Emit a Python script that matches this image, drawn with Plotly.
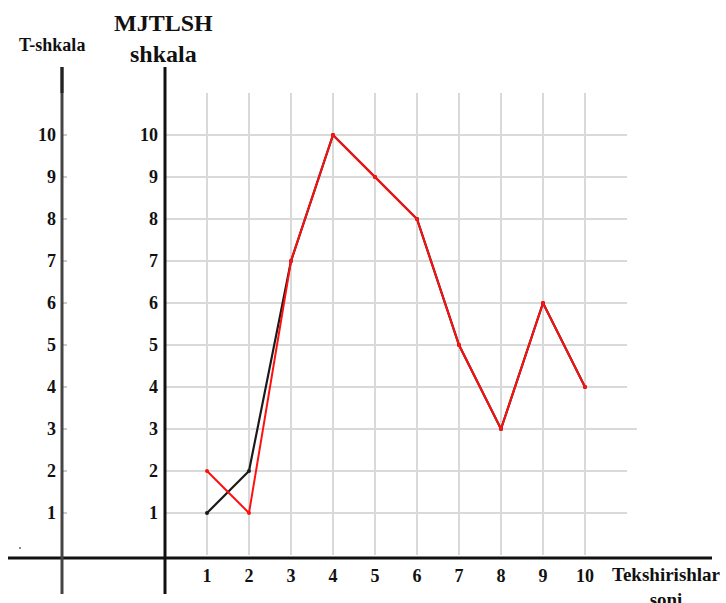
import plotly.graph_objects as go

W, H = 726, 603

# ---- data ----
checks = [1, 2, 3, 4, 5, 6, 7, 8, 9, 10]
t_scale = [1, 2, 7, 10, 9, 8, 5, 3, 6, 4]        # black line (T-shkala)
mjtlsh_scale = [2, 1, 7, 10, 9, 8, 5, 3, 6, 4]   # red line (MJTLSH shkala)
x_tick_labels = ["", "1", "2", "3", "4", "5", "6", "7", "8", "9", "10", ""]
y_tick_labels = ["", "1", "2", "3", "4", "5", "6", "7", "8", "9", "10", ""]
grid_vals = list(range(0, 12))

FONT = "Liberation Serif, Times New Roman, serif"

def px(x):
    return x / W

def py(y):
    return 1 - y / H

fig = go.Figure()

fig.add_trace(go.Scatter(
    x=checks, y=t_scale, mode="lines+markers", yaxis="y",
    line=dict(color="#1a1a1a", width=2.2),
    marker=dict(color="#1a1a1a", size=4),
    showlegend=False, hoverinfo="skip"))
fig.add_trace(go.Scatter(
    x=checks, y=mjtlsh_scale, mode="lines+markers", yaxis="y2",
    line=dict(color="#ff1010", width=2),
    marker=dict(color="#ff1010", size=4),
    showlegend=False, hoverinfo="skip"))

xdom = [165 / W, 627 / W]
ydom = [(H - 555) / H, (H - 93) / H]
tickfont = dict(family=FONT, size=18, color="#111", weight="bold")

fig.update_layout(
    width=W, height=H, autosize=False,
    margin=dict(l=0, r=0, t=0, b=0),
    paper_bgcolor="white", plot_bgcolor="white",
    xaxis=dict(domain=xdom, range=[0, 11], tickvals=grid_vals, ticktext=x_tick_labels,
               showgrid=True, gridcolor="#d9d9d9", gridwidth=2, zeroline=False,
               showline=False, ticks="", tickfont=tickfont, ticklabelstandoff=8,
               fixedrange=True),
    yaxis=dict(domain=ydom, range=[0, 11], tickvals=grid_vals, ticktext=y_tick_labels,
               showgrid=True, gridcolor="#d9d9d9", gridwidth=2, zeroline=False,
               showline=False, ticks="", tickfont=tickfont, ticklabelstandoff=6,
               fixedrange=True),
    yaxis2=dict(domain=ydom, range=[0, 11], tickvals=grid_vals, ticktext=y_tick_labels,
                overlaying="y", anchor="free", position=62 / W, side="left",
                showgrid=False, zeroline=False, showline=False,
                ticks="inside", ticklen=4, tickcolor="#cccccc", tickwidth=2,
                tickfont=tickfont, ticklabelstandoff=6, fixedrange=True),
)

shapes = []
# extend the y=3 gridline slightly to the right
shapes.append(dict(type="line", xref="paper", yref="y", x0=px(627), x1=px(637), y0=3, y1=3,
                   line=dict(color="#d9d9d9", width=2)))
# horizontal axis line
shapes.append(dict(type="line", xref="paper", yref="paper", x0=px(8), x1=px(712),
                   y0=py(558), y1=py(558), line=dict(color="#111", width=3)))
# left (T-shkala) axis line
shapes.append(dict(type="line", xref="paper", yref="paper", x0=px(62), x1=px(62),
                   y0=py(67), y1=py(594), line=dict(color="#444", width=3)))
shapes.append(dict(type="line", xref="paper", yref="paper", x0=px(62), x1=px(62),
                   y0=py(67), y1=py(93), line=dict(color="#222", width=3)))
# main (MJTLSH) axis line
shapes.append(dict(type="line", xref="paper", yref="paper", x0=px(165), x1=px(165),
                   y0=py(67), y1=py(594), line=dict(color="#111", width=3)))
# small stray dot
shapes.append(dict(type="circle", xref="paper", yref="paper", x0=px(19), x1=px(21),
                   y0=py(547), y1=py(549), fillcolor="#666", line=dict(width=0)))
fig.update_layout(shapes=shapes)

annotations = [
    dict(text="<b>T-shkala</b>", x=px(52), y=py(45), font=dict(family=FONT, size=18, color="#111")),
    dict(text="<b>MJTLSH<br>shkala</b>", x=px(163), y=py(38), font=dict(family=FONT, size=24, color="#111")),
    dict(text="<b>Tekshirishlar<br>soni</b>", x=px(666), y=py(587), font=dict(family=FONT, size=19, color="#111")),
]
for a in annotations:
    a.update(xref="paper", yref="paper", showarrow=False, xanchor="center", yanchor="middle")
fig.update_layout(annotations=annotations)

fig.write_html("out.html", config={"displayModeBar": False},
               post_script="document.body.style.margin='0';document.body.style.overflow='hidden';")
